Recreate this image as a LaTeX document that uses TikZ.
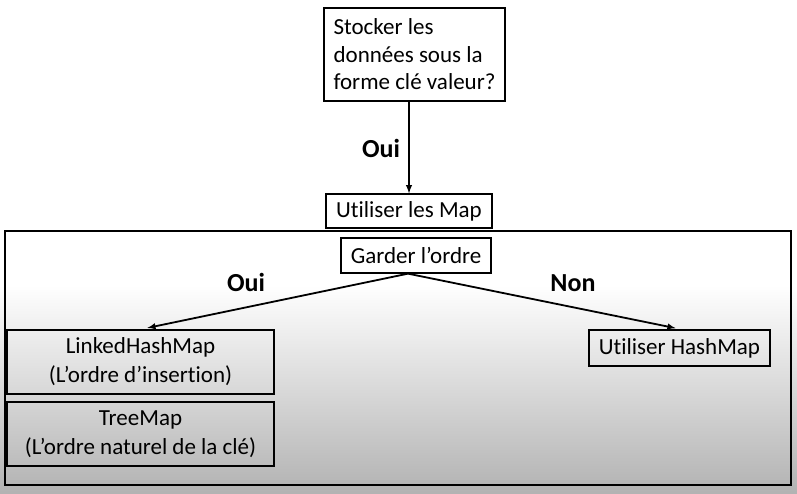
\documentclass[tikz,border=0pt]{standalone}
\usepackage{fontspec}
\setmainfont{Carlito}[Ligatures=NoCommon]

\begin{document}
\begin{tikzpicture}[x=1pt,y=-1pt]
		\tikzstyle {box} = [draw, line width=1.3pt, inner sep=0pt, font=\fontsize{23}{27.5}\selectfont]
		\tikzstyle {flow} = [-latex, line width=1.8pt]
		\tikzstyle {answer} = [font=\fontsize{26}{30}\selectfont\bfseries]

		\useasboundingbox (0,0) rectangle (797,493);
		\shade[top color=white, bottom color=black!30] (0,285) rectangle (797,493);
		\draw[line width=2pt] (5,231) rectangle (791,485);

		\node[box, minimum width=181pt, minimum height=93pt, align=left] (question) at (414.5,54.5) {Stocker les\\données sous la\\forme clé valeur?};
		\node[box, minimum width=166pt, minimum height=34pt] (map) at (409,211) {Utiliser les Map};
		\node[box, minimum width=150pt, minimum height=35pt] (garder) at (416,255.5) {Garder l’ordre};

		\node[box, minimum width=267pt, minimum height=64pt, align=center, font=\fontsize{23}{29}\selectfont] (linked) at (140.5,362) {LinkedHashMap\\(L’ordre d’insertion)};
		\node[box, minimum width=267pt, minimum height=64pt, align=center, font=\fontsize{23}{29}\selectfont] (tree) at (140.5,434) {TreeMap\\(L’ordre naturel de la clé)};
		\node[box, minimum width=181pt, minimum height=36pt] (hash) at (679.5,348) {Utiliser HashMap};

		\draw[flow] (question.south -| map) -- (map.north);
		\node[answer] (oui1) at (381,148) {Oui};

		\draw[flow, shorten >=7pt] ([xshift=-8pt]garder.south) -- (linked.north);
		\draw[flow, shorten >=6pt] ([xshift=-8pt]garder.south) -- ([xshift=2pt]hash.north);
		\node[answer] (oui2) at (246,282) {Oui};
		\node[answer] (non) at (573,283) {Non};
\end{tikzpicture}
\end{document}
